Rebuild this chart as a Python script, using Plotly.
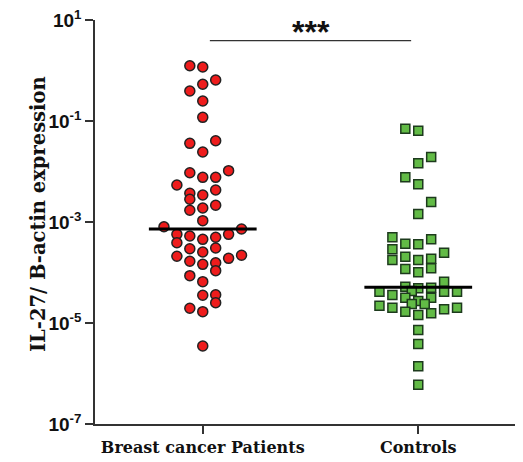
import numpy as np
import plotly.graph_objects as go

categories = ["Breast cancer Patients", "Controls"]

# log10 of IL-27 / B-actin expression
patients_log = [0.095, 0.069, -0.188, -0.273, -0.406, -0.604, -0.927, -1.442, -1.390, -1.614,
                -2.024, -1.984, -2.115, -2.115, -2.267, -2.432, -2.550, -2.465, -2.366, -2.768,
                -2.723, -2.669, -2.974, -3.093, -3.139, -3.244, -3.277, -3.343, -3.303, -3.244,
                -3.410, -3.529, -3.594, -3.515, -3.679, -3.778, -3.838, -3.806, -3.719, -3.659,
                -3.964, -4.063, -4.182, -4.451, -4.440, -4.598, -4.709, -4.776, -5.455]
patients_col = [-1, 0, 1, 0, -1, 0, 0, -1, 1, 0,
                -1, 2, 0, 1, -2, -1, -1, 0, 1, -1,
                0, 1, 0, -3, 3, -2, -1, 0, 1, 2,
                -2, -1, 0, 1, -2, -1, 0, 1, 2, 3,
                1, -1, 0, 0, 1, 1, -1, 0, 0]

controls_log = [-1.152, -1.192, -1.713, -1.838, -2.115, -2.253, -2.604, -2.842, -3.303, -3.430,
                -3.442, -3.343, -3.541, -3.608, -3.752, -3.687, -3.752, -3.727, -3.917, -3.931,
                -3.996, -4.182, -4.281, -4.313, -4.301, -4.380, -4.446, -4.380, -4.380, -4.366,
                -4.499, -4.499, -4.564, -4.624, -4.624, -4.657, -4.697, -4.776, -4.842, -4.808,
                -4.729, -4.697, -5.139, -5.416, -5.857, -6.222]
controls_col = [-1, 0, 1, 0, -1, 0, 1, 0, -2, -1,
                0, 1, -2, 2, -2, -1, 0, 1, 1, -1,
                0, 2, -1, 0, 1, -3, -2, 2, 3, -0.5,
                -1, 1, 0, -0.5, 0.5, -3, -2, -1, 0, 1,
                2, 3, 0, 0, 0, 0]

y_ticks = [1e1, 1e-1, 1e-3, 1e-5, 1e-7]
y_tick_text = ["10<sup>1</sup>", "10<sup>-1</sup>", "10<sup>-3</sup>", "10<sup>-5</sup>", "10<sup>-7</sup>"]
y_title = "IL-27/ B-actin expression"
significance = "***"

STEP = 0.06
fig = go.Figure()

groups = [
    (patients_log, patients_col, 0, "circle", "#ee1c1c", "#222222", 10),
    (controls_log, controls_col, 1, "square", "#62bb46", "#1d3a1d", 9),
]
for vals, cols, xi, sym, col, line_col, size in groups:
    fig.add_trace(go.Scatter(
        x=[xi + c * STEP for c in cols],
        y=[10 ** v for v in vals],
        mode="markers",
        marker=dict(symbol=sym, size=size, color=col, line=dict(color=line_col, width=1.5)),
        showlegend=False, hoverinfo="skip"))

for vals, xi in [(patients_log, 0), (controls_log, 1)]:
    med = 10 ** float(np.median(vals))
    fig.add_trace(go.Scatter(x=[xi - 0.25, xi + 0.25], y=[med, med], mode="lines",
                             line=dict(color="black", width=3), showlegend=False, hoverinfo="skip"))

# significance bracket
fig.add_trace(go.Scatter(x=[0.033, 0.967], y=[10 ** 0.59, 10 ** 0.59], mode="lines",
                         line=dict(color="#333333", width=1.3), showlegend=False, hoverinfo="skip"))
fig.add_annotation(x=0.5, y=0.76, xref="x", yref="y", text="<b>" + significance + "</b>",
                   showarrow=False, font=dict(family="Liberation Sans", size=32, color="#111111"),
                   yanchor="middle")

# y-axis title as rotated annotation
fig.add_annotation(x=0, y=0.5, xref="paper", yref="paper", xshift=-57, yshift=8,
                   text="<b>" + y_title + "</b>", textangle=-90, showarrow=False,
                   xanchor="center", yanchor="middle",
                   font=dict(family="DejaVu Serif", size=19.5, color="#111111"))

fig.update_xaxes(
    range=[-0.5, 1.5], tickvals=[0, 1], ticktext=["<b>" + c + "</b>" for c in categories],
    showline=True, linecolor="#333333", linewidth=1.5, ticks="outside", ticklen=8, tickwidth=1.5,
    tickcolor="#333333", showgrid=False, zeroline=False, automargin=False,
    ticklabeloverflow="allow",
    tickfont=dict(family="DejaVu Serif", size=16, color="#111111"))
fig.update_yaxes(
    type="log", range=[-7, 1], tickvals=y_ticks, ticktext=["<b>" + t + "</b>" for t in y_tick_text],
    showline=True, linecolor="#333333", linewidth=1.5, ticks="outside", ticklen=8, tickwidth=1.5,
    tickcolor="#333333", showgrid=False, zeroline=False, automargin=False,
    ticklabeloverflow="allow",
    tickfont=dict(family="Liberation Sans", size=19, color="#111111"))

fig.update_layout(width=523, height=462, margin=dict(l=87, r=5, t=12, b=46),
                  plot_bgcolor="white", paper_bgcolor="white")

fig.write_html("out.html")
